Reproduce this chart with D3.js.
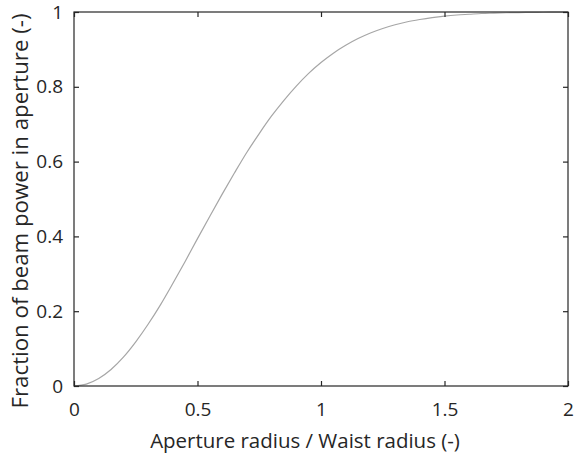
<!DOCTYPE html>
<html><head><meta charset="utf-8">
<script src="https://cdn.jsdelivr.net/npm/d3@7"></script>
<style>body{margin:0;background:#fff}svg{display:block}text{font-family:"Open Sans",sans-serif;fill:#262626}</style>
</head><body>
<svg id="c" width="575" height="454"></svg>
<script>
const xVals = [0,0.05,0.1,0.15,0.2,0.25,0.3,0.35,0.4,0.45,0.5,0.55,0.6,0.65,0.7,0.75,0.8,0.85,0.9,0.95,1.0,1.05,1.1,1.15,1.2,1.25,1.3,1.35,1.4,1.45,1.5,1.55,1.6,1.65,1.7,1.75,1.8,1.85,1.9,1.95,2.0];
const yVals = [0,0.005,0.020,0.044,0.077,0.118,0.165,0.217,0.274,0.333,0.394,0.454,0.513,0.570,0.625,0.675,0.722,0.764,0.802,0.836,0.865,0.890,0.911,0.929,0.944,0.956,0.966,0.974,0.980,0.985,0.989,0.992,0.994,0.996,0.997,0.998,0.9985,0.999,0.9993,0.9995,0.9997];
const xTicks = [0,0.5,1,1.5,2];
const yTicks = [0,0.2,0.4,0.6,0.8,1];
const xTickLabels = ["0","0.5","1","1.5","2"];
const yTickLabels = ["0","0.2","0.4","0.6","0.8","1"];
const xTitle = "Aperture radius / Waist radius (-)";
const yTitle = "Fraction of beam power in aperture (-)";

const L=74,R=568,T=12,B=386;
const svg=d3.select("#c");
const x=d3.scaleLinear().domain([0,2]).range([L,R]);
const y=d3.scaleLinear().domain([0,1]).range([B,T]);
const axCol="#262626", tl=5;

const line=d3.line().x((d,i)=>x(xVals[i])).y(d=>y(d)).curve(d3.curveMonotoneX);
svg.append("path").datum(yVals).attr("d",line).attr("fill","none").attr("stroke","#a6a6a6").attr("stroke-width",1.2);

svg.append("rect").attr("x",L).attr("y",T).attr("width",R-L).attr("height",B-T).attr("fill","none").attr("stroke",axCol).attr("stroke-width",1.2);

const fs=19;
const xa=d3.axisBottom(x).tickValues(xTicks).tickFormat((d,i)=>xTickLabels[i]).tickSizeInner(-tl).tickSizeOuter(0).tickPadding(17);
const gx=svg.append("g").attr("transform",`translate(0,${B})`).call(xa);
const ya=d3.axisLeft(y).tickValues(yTicks).tickFormat((d,i)=>yTickLabels[i]).tickSizeInner(-tl).tickSizeOuter(0).tickPadding(11);
const gy=svg.append("g").attr("transform",`translate(${L},0)`).call(ya);
const xt=d3.axisTop(x).tickValues(xTicks).tickFormat("").tickSizeInner(-tl).tickSizeOuter(0);
const gxt=svg.append("g").attr("transform",`translate(0,${T})`).call(xt);
const yr=d3.axisRight(y).tickValues(yTicks).tickFormat("").tickSizeInner(-tl).tickSizeOuter(0);
const gyr=svg.append("g").attr("transform",`translate(${R},0)`).call(yr);
[gx,gy,gxt,gyr].forEach(g=>{g.select(".domain").remove();g.selectAll("line").attr("stroke",axCol).attr("stroke-width",1.2);g.selectAll("text").attr("font-size",fs).attr("font-family","'Open Sans',sans-serif").attr("fill",axCol);});

const xtEl=svg.append("text").attr("x",305).attr("y",448).attr("text-anchor","middle").attr("font-size",20).text(xTitle);
const w=xtEl.node().getComputedTextLength();
xtEl.attr("font-size",20*310/w);
const ytEl=svg.append("text").attr("transform",`translate(28,211) rotate(-90)`).attr("text-anchor","middle").attr("font-size",20).text(yTitle);
const h=ytEl.node().getComputedTextLength();
ytEl.attr("font-size",20*395/h);
</script></body></html>
